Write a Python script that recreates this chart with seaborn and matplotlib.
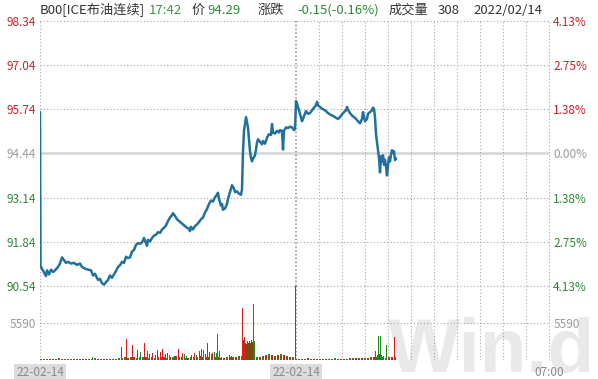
import seaborn as sns
import matplotlib.pyplot as plt

# last price, x = minutes since the session open (one pixel per step)
price_t = [0, 0.5, 2, 4, 6, 7, 9, 11, 13, 15, 18, 20, 22, 24, 26, 28, 31, 34, 37, 40,
           42, 45, 48, 51, 53, 55, 58, 60, 62, 64, 66, 68, 70, 72, 74, 76, 78, 80, 82, 84,
           86, 88, 90, 92, 94, 96, 98, 100, 102, 104, 106, 107, 108, 110, 112, 114, 116, 118, 120, 122,
           124, 126, 128, 130, 132, 133, 135, 137, 139, 141, 143, 145, 147, 149, 150, 151, 153, 155, 157, 159,
           161, 163, 165, 167, 169, 171, 173, 175, 177, 178, 179, 181, 182, 183, 185, 187, 188, 190, 192, 194,
           195, 197, 199, 201, 202, 203, 204, 206, 207, 208, 209, 210, 211, 212, 213, 215, 216, 217, 218, 220,
           222, 223, 225, 227, 229, 231, 232, 233, 235, 237, 239, 240, 242, 243, 244, 246, 248, 250, 252, 254,
           255, 256, 257, 258, 260, 262, 263, 265, 266, 268, 270, 272, 274, 276, 277, 278, 280, 282, 284, 286,
           288, 290, 292, 294, 296, 298, 300, 302, 304, 306, 307, 308, 310, 312, 314, 316, 318, 320, 322, 323,
           324, 325, 327, 328, 330, 332, 333, 334, 335, 336, 338, 339, 340, 341, 342, 343, 344, 345, 346, 347,
           348, 349, 350, 351, 352, 353, 354, 355, 356]
price = [95.65, 91.13, 91.05, 90.95, 90.83, 91.0, 90.88, 91.02, 90.95, 91.0, 91.1, 91.2, 91.38, 91.3, 91.22, 91.25, 91.2, 91.22, 91.16, 91.2,
         91.1, 91.05, 91.02, 91.0, 90.85, 90.9, 90.72, 90.75, 90.62, 90.58, 90.65, 90.72, 90.85, 90.78, 90.88, 90.98, 91.1, 91.15, 91.25, 91.22,
         91.4, 91.36, 91.38, 91.55, 91.6, 91.75, 91.8, 91.78, 91.82, 91.95, 91.8, 91.72, 91.9, 91.85, 91.95, 92.02, 92.05, 92.12, 92.1, 92.2,
         92.25, 92.32, 92.45, 92.55, 92.62, 92.68, 92.6, 92.5, 92.45, 92.4, 92.35, 92.3, 92.25, 92.22, 92.15, 92.28, 92.2, 92.3, 92.35, 92.42,
         92.5, 92.55, 92.7, 92.8, 92.95, 93.05, 93.02, 93.15, 93.22, 93.28, 93.1, 92.9, 92.95, 92.78, 92.82, 92.95, 93.1, 93.3, 93.5, 93.4,
         93.3, 93.32, 93.25, 93.22, 93.38, 94.5, 95.1, 95.5, 95.35, 95.2, 94.85, 94.5, 94.3, 94.2, 94.28, 94.38, 94.55, 94.75, 94.85, 94.78,
         94.7, 94.8, 94.72, 94.9, 95.0, 94.98, 95.3, 95.05, 95.02, 95.1, 95.05, 95.12, 95.1, 94.55, 95.1, 95.2, 95.18, 95.22, 95.2, 95.12,
         95.15, 95.97, 95.9, 95.8, 95.6, 95.38, 95.45, 95.6, 95.68, 95.6, 95.62, 95.7, 95.78, 95.85, 95.95, 95.85, 95.8, 95.75, 95.72, 95.68,
         95.62, 95.58, 95.55, 95.52, 95.48, 95.45, 95.5, 95.58, 95.65, 95.7, 95.8, 95.72, 95.62, 95.55, 95.5, 95.45, 95.38, 95.32, 95.45, 95.65,
         95.5, 95.38, 95.45, 95.6, 95.65, 95.7, 95.78, 95.75, 95.5, 95.0, 94.55, 94.3, 93.88, 94.35, 94.2, 94.38, 94.1, 94.25, 94.05, 93.79,
         94.1, 94.32, 94.2, 94.4, 94.53, 94.45, 94.5, 94.24, 94.29]

# larger volume bars  (r = up, g = down, m = mixed)
vol_t = [52, 82, 87, 92, 97, 100, 104, 107, 109, 112, 115, 117, 120, 122, 125, 127, 130, 135, 139, 143,
         145, 147, 152, 155, 157, 160, 162, 164, 166, 168, 170, 172, 173, 175, 177, 178, 180, 182, 190, 192,
         203, 204, 205, 206, 207, 208, 209, 210, 211, 212, 213, 214, 215, 217, 255,
         336, 338, 339, 340, 341, 342, 344, 347, 349, 355, 356]
vol_v = [470, 2000, 3100, 2300, 1550, 1250, 2500, 1400, 900, 1100, 780, 1550, 1250, 1700, 900, 1000, 700, 600, 1700, 1100,
         900, 600, 700, 1000, 800, 1300, 1700, 1500, 900, 2500, 1200, 900, 1100, 1200, 1000, 3900, 1300, 500, 800, 600,
         7900, 3000, 3400, 2600, 2400, 2800, 2500, 2900, 2600, 3000, 2700, 8500, 2800, 500, 11300,
         1400, 800, 3600, 900, 3600, 700, 600, 2200, 400, 3400, 500]
vol_c = list('grrrrgrgrrrrrrrrggrr'
             'ggrrgrrrrrrgrggggrrr'
             'rrrmmmmmmmmggrr'
             'grgrgrrgrrg')

# small background volume, every 3 minutes from t=1
base_vol = [150, 200, 120, 180, 150, 120, 250, 140, 160, 130, 180, 150, 120, 200, 170, 140, 130, 160, 300, 150,
            140, 180, 200, 160, 220, 190, 250,
            350, 420, 300, 380, 450, 320, 400, 500, 380, 300, 420, 360, 450, 520, 400, 330, 380, 460, 550, 420,
            380, 300, 350, 420, 480, 520, 600, 450, 400, 500, 380, 420, 460, 350, 300, 380, 420, 450, 500, 600,
            550, 480, 420, 500, 560, 450, 400,
            600, 750, 900, 700, 650, 800, 850, 700, 600, 500, 400,
            180, 150, 200, 160, 250, 140, 170, 220, 150, 130, 200, 180, 160, 240, 150, 200, 170, 210, 260, 230, 300,
            280, 320, 350, 300, 380, 420, 450, 380, 400, 350, 420, 380, 300]

price_ticks = [98.34, 97.04, 95.74, 94.44, 93.14, 91.84, 90.54]
pct_labels = ['4.13%', '2.75%', '1.38%', '0.00%', '1.38%', '2.75%', '4.13%']
prev_close = 94.44
vol_tick = 5590
x_ticks = [0, 256, 509]
x_labels = ['22-02-14', '22-02-14', '07:00']

RED, GREEN, GRAY = '#c0262b', '#2c8a36', '#9a9a9a'
BAR = {'r': '#e01b1b', 'g': '#1b8a1b', 'm': '#7a4a10'}

sns.set_style('white')
plt.rcParams['font.family'] = ['Noto Sans CJK SC', 'DejaVu Sans']

W, H = 598, 379
fig = plt.figure(figsize=(W / 100, H / 100), dpi=100)
ax = fig.add_axes([40 / W, 1 - 286 / H, 509 / W, 265.5 / H])
axv = fig.add_axes([40 / W, 1 - 360 / H, 509 / W, 74 / H], sharex=ax)
for a in (ax, axv):
    a.set_facecolor('none')
    for s in a.spines.values():
        s.set_visible(False)

# watermark
fig.text(388 / W, 1 - 372 / H, 'Win.d', fontsize=55, weight='bold', color='#e9e9e9',
         family='Liberation Sans', va='baseline', ha='left', zorder=-1)

dot = (0, (1, 2))
ax.set_xlim(0, 509)
ax.set_ylim(price_ticks[-1], price_ticks[0])
for v in price_ticks:
    if v == prev_close:
        ax.axhline(v, color='#d9d9d9', lw=2, zorder=1)
    else:
        ax.axhline(v, color='#a8a8a8', lw=0.8, ls=dot, clip_on=False, zorder=1)

grid_x = [256 + 23 * k for k in range(1, 11)]
for a in (ax, axv):
    a.axvline(256, color='#8c8c8c', lw=1.1, ls=(0, (1, 1.5)), clip_on=False)
    for gx in grid_x:
        a.axvline(gx, color='#a8a8a8', lw=0.8, ls=dot)
    for gx in (0, 509):
        a.axvline(gx, color='#a8a8a8', lw=0.8, ls=dot, clip_on=False)

sns.lineplot(x=price_t, y=price, ax=ax, color='#22719b', lw=1.8,
             estimator=None, sort=False, zorder=3)

ax.set_yticks(price_ticks)
ax.set_yticklabels([f'{v:.2f}' for v in price_ticks])
ax.tick_params(axis='y', length=0, pad=3, labelsize=8.5)
ax.tick_params(axis='x', labelbottom=False, length=0)
for lab, v in zip(ax.get_yticklabels(), price_ticks):
    lab.set_color(RED if v > prev_close else GREEN if v < prev_close else GRAY)

axr = ax.twinx()
axr.set_ylim(ax.get_ylim())
axr.set_yticks(price_ticks)
axr.set_yticklabels(pct_labels)
axr.tick_params(axis='y', length=0, pad=3, labelsize=8.5)
for s in axr.spines.values():
    s.set_visible(False)
for lab, v in zip(axr.get_yticklabels(), price_ticks):
    lab.set_color(RED if v > prev_close else GREEN if v < prev_close else GRAY)

# volume
base_t = list(range(1, 1 + 3 * len(base_vol), 3))
axv.bar(base_t, base_vol, width=2.8, color=[BAR['r'] if i % 2 else BAR['g'] for i in range(len(base_vol))],
        linewidth=0, zorder=2)
axv.bar(vol_t, vol_v, width=1.0, color=[BAR[c] for c in vol_c], linewidth=0, zorder=3)
axv.set_ylim(0, 2 * vol_tick)
axv.axhline(vol_tick, color='#a8a8a8', lw=0.8, ls=dot)
axv.set_yticks([vol_tick])
axv.set_yticklabels([str(vol_tick)], color=GRAY)
axv.tick_params(axis='y', length=0, pad=3, labelsize=8.5)
axvr = axv.twinx()
axvr.set_ylim(axv.get_ylim())
axvr.set_yticks([vol_tick])
axvr.set_yticklabels([str(vol_tick)], color=GRAY)
axvr.tick_params(axis='y', length=0, pad=3, labelsize=8.5)
for s in axvr.spines.values():
    s.set_visible(False)

axv.set_xticks(x_ticks)
axv.set_xticklabels(x_labels, color='#8a8a8a', fontsize=8.5)
axv.tick_params(axis='x', length=0, pad=4)
for lab in axv.get_xticklabels()[:2]:
    lab.set_bbox(dict(facecolor='#dcdcdc', edgecolor='none', pad=1.2))

# header line
header = [('B00[ICE布油连续]', 40, '#333333'), ('17:42', 149, '#3a9a3a'), ('价', 192, '#333333'),
          ('94.29', 207, '#2c8a36'), ('涨跌', 258, '#333333'), ('-0.15(-0.16%)', 297, '#2c8a36'),
          ('成交量', 389, '#333333'), ('308', 438, '#333333'), ('2022/02/14', 473, '#333333')]
for txt, px, col in header:
    fig.text(px / W, 1 - 10 / H, txt, color=col, fontsize=9.5, ha='left', va='center')

fig.savefig('out.png', dpi=100)
